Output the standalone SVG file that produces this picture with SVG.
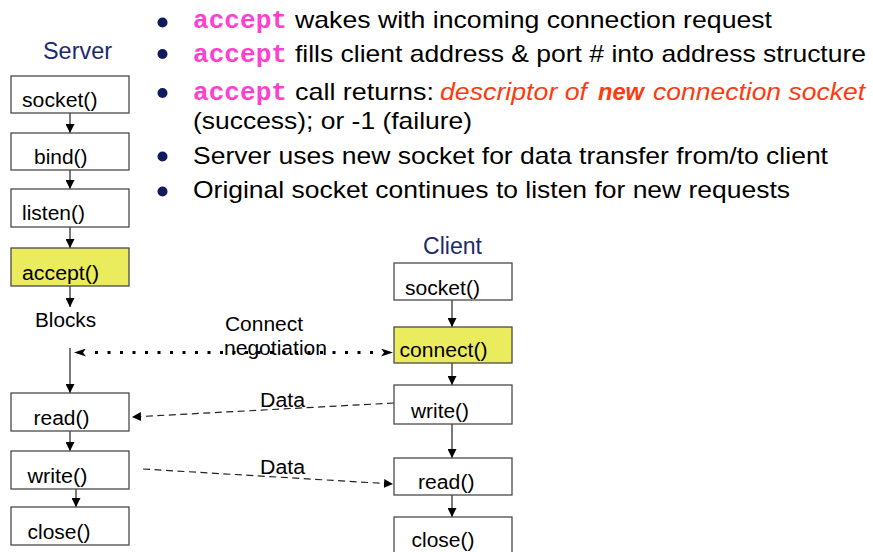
<svg xmlns="http://www.w3.org/2000/svg" width="873" height="552" viewBox="0 0 873 552">
  <defs>
    <style>
      .txt { font-family: "Liberation Sans", Arial, sans-serif; fill: #000; }
      .bullet-txt { font-size: 24px; }
      .code { font-family: "Liberation Mono", "Courier New", monospace; font-weight: bold; font-size: 26px; fill: #FF3FD0; }
      .hl { fill: #FF3A0F; font-style: italic; }
      .head { font-family: "Liberation Sans", Arial, sans-serif; font-size: 23px; fill: #1C2A6E; }
      .lbl { font-size: 19.5px; }
      .box { fill: #FFFFFF; stroke: #4A4A4A; stroke-width: 1.3; }
      .box.active { fill: #EBEB5E; }
      .dot { fill: #0F1B5C; }
      .flow { stroke: #333; stroke-width: 1.3; fill: none; marker-end: url(#tip); }
      .data { stroke: #222; stroke-width: 1.2; stroke-dasharray: 7 4.5; fill: none; marker-end: url(#tip); }
      .nego { stroke: #000; stroke-width: 3; stroke-dasharray: 3 9.5; fill: none; }
    </style>
    <marker id="tip" viewBox="0 0 10 10" refX="10" refY="5" markerWidth="9" markerHeight="9" markerUnits="userSpaceOnUse" orient="auto">
      <path d="M0,0 L10,5 L0,10 Z" fill="#000"/>
    </marker>
    <marker id="bigtip" viewBox="0 0 12 8" refX="12" refY="4" markerWidth="13" markerHeight="8" markerUnits="userSpaceOnUse" orient="auto">
      <path d="M0,0 L12,4 L0,8 L3,4 Z" fill="#000"/>
    </marker>
  </defs>

  <rect width="873" height="552" fill="#FFFFFF"/>

  <!-- bullet list -->
  <g id="bullets">
    <ellipse class="dot" cx="162.5" cy="22.5" rx="5" ry="5"/>
    <ellipse class="dot" cx="162.5" cy="54" rx="5" ry="5"/>
    <ellipse class="dot" cx="162.5" cy="93" rx="5" ry="5"/>
    <ellipse class="dot" cx="162.5" cy="156.5" rx="5" ry="5"/>
    <ellipse class="dot" cx="162.5" cy="191.5" rx="5" ry="5"/>

    <text class="code" x="193" y="28" textLength="94" lengthAdjust="spacingAndGlyphs">accept</text>
    <text class="txt bullet-txt" x="295" y="28" textLength="477" lengthAdjust="spacingAndGlyphs">wakes with incoming connection request</text>

    <text class="code" x="193" y="62" textLength="94" lengthAdjust="spacingAndGlyphs">accept</text>
    <text class="txt bullet-txt" x="295" y="62" textLength="571" lengthAdjust="spacingAndGlyphs">fills client address &amp; port # into address structure</text>

    <text class="code" x="193" y="99.5" textLength="94" lengthAdjust="spacingAndGlyphs">accept</text>
    <text class="txt bullet-txt" x="295" y="99.5" textLength="139" lengthAdjust="spacingAndGlyphs">call returns:</text>
    <text class="txt bullet-txt hl" x="440" y="99.5" textLength="147" lengthAdjust="spacingAndGlyphs">descriptor of</text>
    <text class="txt bullet-txt hl" x="598" y="99.5" textLength="46" lengthAdjust="spacingAndGlyphs" font-weight="bold">new</text>
    <text class="txt bullet-txt hl" x="653" y="99.5" textLength="212" lengthAdjust="spacingAndGlyphs">connection socket</text>
    <text class="txt bullet-txt" x="193" y="128.5" textLength="279" lengthAdjust="spacingAndGlyphs">(success); or -1 (failure)</text>

    <text class="txt bullet-txt" x="193" y="163.5" textLength="635" lengthAdjust="spacingAndGlyphs">Server uses new socket for data transfer from/to client</text>
    <text class="txt bullet-txt" x="193" y="197.5" textLength="597" lengthAdjust="spacingAndGlyphs">Original socket continues to listen for new requests</text>
  </g>

  <!-- column headings -->
  <text id="server-title" class="head" x="43" y="59" textLength="69" lengthAdjust="spacingAndGlyphs">Server</text>
  <text id="client-title" class="head" x="423" y="253.5" textLength="59" lengthAdjust="spacingAndGlyphs">Client</text>

  <!-- connectors -->
  <g id="connectors">
    <!-- server flow -->
    <line class="flow" x1="70" y1="113" x2="70" y2="133"/>
    <line class="flow" x1="70" y1="170" x2="70" y2="189"/>
    <line class="flow" x1="70" y1="227" x2="70" y2="248"/>
    <line class="flow" x1="70" y1="286" x2="70" y2="307"/>
    <line class="flow" x1="70" y1="348" x2="70" y2="393"/>
    <line class="flow" x1="70" y1="431" x2="70" y2="451"/>
    <line class="flow" x1="76" y1="489" x2="76" y2="507"/>
    <!-- client flow -->
    <line class="flow" x1="452" y1="300" x2="452" y2="327"/>
    <line class="flow" x1="452" y1="363" x2="452" y2="385"/>
    <line class="flow" x1="452" y1="424" x2="452" y2="458"/>
    <line class="flow" x1="452" y1="495" x2="452" y2="517"/>
    <!-- connect negotiation -->
    <line class="nego" x1="95" y1="352.5" x2="375" y2="352.5"/>
    <line x1="84" y1="352.5" x2="74" y2="352.5" stroke="none" marker-end="url(#bigtip)"/>
    <line x1="383" y1="352.5" x2="393" y2="352.5" stroke="none" marker-end="url(#bigtip)"/>
    <!-- data transfers -->
    <line class="data" x1="394" y1="403" x2="132" y2="417"/>
    <line class="data" x1="143" y1="469" x2="393" y2="484"/>
  </g>

  <!-- connector labels -->
  <g id="connector-labels">
    <text class="txt lbl" x="225" y="331" textLength="78" lengthAdjust="spacingAndGlyphs">Connect</text>
    <text class="txt lbl" x="224" y="354.5" textLength="103" lengthAdjust="spacingAndGlyphs">negotiation</text>
    <text class="txt lbl" x="260" y="407" textLength="45" lengthAdjust="spacingAndGlyphs">Data</text>
    <text class="txt lbl" x="260" y="474" textLength="45" lengthAdjust="spacingAndGlyphs">Data</text>
  </g>

  <!-- server nodes -->
  <g id="srv-socket"><rect class="box" x="11" y="76" width="118" height="37"/><text class="txt lbl" x="22" y="107" textLength="75.5" lengthAdjust="spacingAndGlyphs">socket()</text></g>
  <g id="srv-bind"><rect class="box" x="11" y="133" width="118" height="37"/><text class="txt lbl" x="34" y="163.5" textLength="53.5" lengthAdjust="spacingAndGlyphs">bind()</text></g>
  <g id="srv-listen"><rect class="box" x="11" y="189" width="118" height="38"/><text class="txt lbl" x="22" y="219.5" textLength="63" lengthAdjust="spacingAndGlyphs">listen()</text></g>
  <g id="srv-accept"><rect class="box active" x="11" y="248" width="118" height="38"/><text class="txt lbl" x="22" y="280" textLength="77" lengthAdjust="spacingAndGlyphs">accept()</text></g>
  <g id="srv-blocks"><text class="txt lbl" x="35" y="326.5" textLength="61" lengthAdjust="spacingAndGlyphs">Blocks</text></g>
  <g id="srv-read"><rect class="box" x="11" y="393" width="118" height="38"/><text class="txt lbl" x="33.5" y="425" textLength="56" lengthAdjust="spacingAndGlyphs">read()</text></g>
  <g id="srv-write"><rect class="box" x="11" y="451" width="118" height="38"/><text class="txt lbl" x="27.5" y="482.5" textLength="60" lengthAdjust="spacingAndGlyphs">write()</text></g>
  <g id="srv-close"><rect class="box" x="11" y="507" width="118" height="38"/><text class="txt lbl" x="27.5" y="538.5" textLength="63" lengthAdjust="spacingAndGlyphs">close()</text></g>

  <!-- client nodes -->
  <g id="cli-socket"><rect class="box" x="394" y="263" width="118" height="37"/><text class="txt lbl" x="405" y="295" textLength="75" lengthAdjust="spacingAndGlyphs">socket()</text></g>
  <g id="cli-connect"><rect class="box active" x="394" y="327" width="118" height="36"/><text class="txt lbl" x="399.5" y="357" textLength="88" lengthAdjust="spacingAndGlyphs">connect()</text></g>
  <g id="cli-write"><rect class="box" x="394" y="385" width="118" height="39"/><text class="txt lbl" x="411" y="418" textLength="58" lengthAdjust="spacingAndGlyphs">write()</text></g>
  <g id="cli-read"><rect class="box" x="394" y="458" width="118" height="37"/><text class="txt lbl" x="418" y="488.5" textLength="56.5" lengthAdjust="spacingAndGlyphs">read()</text></g>
  <g id="cli-close"><rect class="box" x="394" y="517" width="118" height="38"/><text class="txt lbl" x="411.5" y="547" textLength="63" lengthAdjust="spacingAndGlyphs">close()</text></g>
</svg>
